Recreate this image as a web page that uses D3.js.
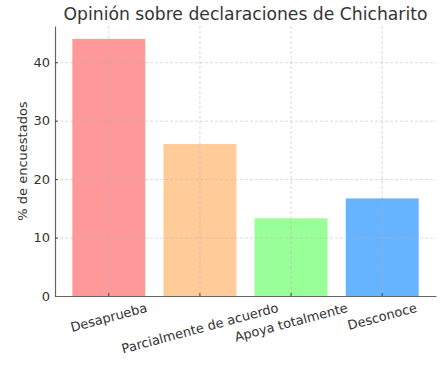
<!DOCTYPE html>
<html><head><meta charset="utf-8">
<script src="https://cdn.jsdelivr.net/npm/d3@7"></script>
<style>body{margin:0;background:#fff;} svg{display:block;font-family:"DejaVu Sans",sans-serif;}</style>
</head><body>
<svg id="c" width="443" height="368"></svg>
<script>
const categories = ["Desaprueba", "Parcialmente de acuerdo", "Apoya totalmente", "Desconoce"];
const values = [44, 26, 13.3, 16.7];
const colors = ["#ff9999", "#ffcc99", "#99ff99", "#66b3ff"];
const yTicks = [0, 10, 20, 30, 40];
const title = "Opinión sobre declaraciones de Chicharito";
const yLabel = "% de encuestados";

const svg = d3.select("#c");
const L = 55, R = 436, T = 26, B = 296;
const x = d3.scaleBand().domain(categories).range([L, R]).paddingInner(0.2).paddingOuter(0.19);
const y = d3.scaleLinear().domain([0, d3.max(values) * 1.05]).range([B, T]);

// bars
svg.append("g").selectAll("rect").data(categories).join("rect")
  .attr("x", d => x(d)).attr("width", x.bandwidth())
  .attr("y", (d, i) => y(values[i])).attr("height", (d, i) => B - y(values[i]))
  .attr("fill", (d, i) => colors[i]);

// grid (over bars)
const grid = svg.append("g").attr("stroke", "#b0b0b0").attr("stroke-opacity", 0.6)
  .attr("stroke-dasharray", "3,2").attr("stroke-width", 0.8);
grid.selectAll("line.h").data(yTicks).join("line").attr("class", "h")
  .attr("x1", L).attr("x2", R).attr("y1", d => y(d) + 0.5).attr("y2", d => y(d) + 0.5);
grid.selectAll("line.v").data(categories).join("line").attr("class", "v")
  .attr("x1", d => x(d) + x.bandwidth() / 2).attr("x2", d => x(d) + x.bandwidth() / 2)
  .attr("y1", T).attr("y2", B);

// y axis
const ya = svg.append("g").attr("transform", `translate(${L},0)`)
  .call(d3.axisLeft(y).tickValues(yTicks).tickSizeInner(-3).tickSizeOuter(0).tickPadding(6));
ya.select(".domain").attr("stroke", "#666").attr("stroke-width", 1.2);
ya.selectAll(".tick line").attr("stroke", "#444");
ya.selectAll(".tick text").attr("font-size", 13).attr("fill", "#333").attr("font-family", "DejaVu Sans")
  .attr("x", -5);

// x axis
const xa = svg.append("g").attr("transform", `translate(0,${B})`)
  .call(d3.axisBottom(x).tickSizeInner(-3).tickSizeOuter(0));
xa.select(".domain").attr("stroke", "#666").attr("stroke-width", 1.2);
xa.selectAll(".tick line").attr("stroke", "#444");
xa.selectAll(".tick text").remove();
const fs = 13;
xa.selectAll(".tick").each(function(d) {
  const t = d3.select(this).append("text")
    .attr("font-size", fs).attr("fill", "#333").attr("font-family", "DejaVu Sans")
    .attr("text-anchor", "middle").attr("dominant-baseline", "central").text(d);
  const w = t.node().getComputedTextLength();
  const a = 15 * Math.PI / 180;
  const hh = (w * Math.sin(a) + fs * 1.0 * Math.cos(a)) / 2;
  t.attr("transform", `translate(0,${5 + hh}) rotate(-15)`);
});

// title
svg.append("text").attr("x", (L + R) / 2).attr("y", 20).attr("text-anchor", "middle")
  .attr("font-size", 17.2).attr("fill", "#333").text(title);

// y label
svg.append("text").attr("transform", `translate(27,${(T + B) / 2}) rotate(-90)`)
  .attr("text-anchor", "middle").attr("font-size", 13).attr("fill", "#333").text(yLabel);
</script>
</body></html>
